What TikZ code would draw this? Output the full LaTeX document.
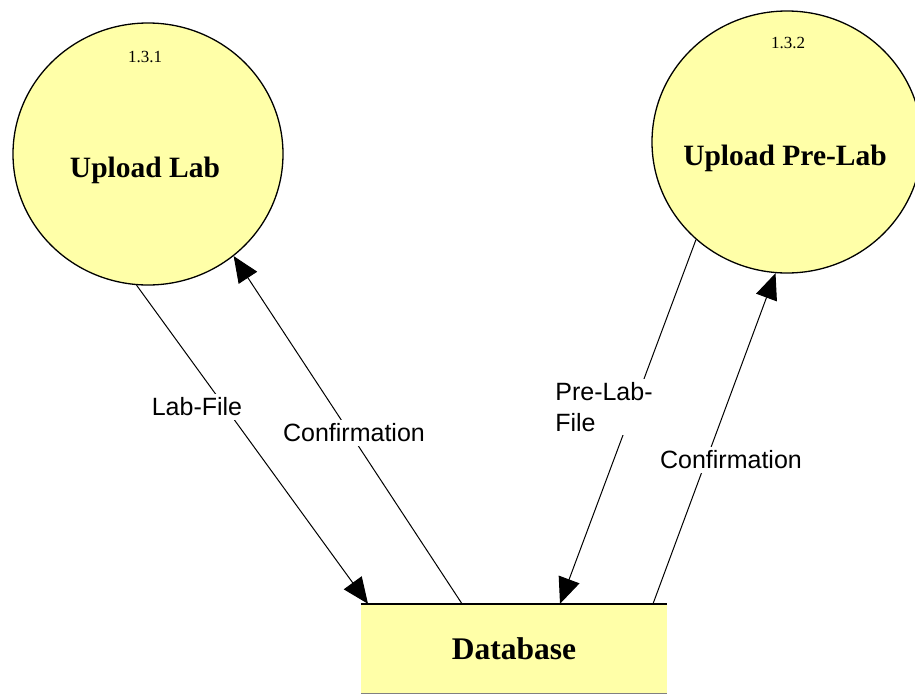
\documentclass[tikz,border=0pt]{standalone}
\usepackage{fontspec}
\setmainfont{Liberation Serif}
\newfontfamily\labfont{Liberation Sans}
\usetikzlibrary{arrows.meta,shapes.geometric}
\definecolor{bubble}{RGB}{255,255,168}
\tikzset{
  proc/.style={ellipse,draw=black,line width=1.3pt,fill=bubble,inner sep=0pt},
  procnum/.style={font=\fontsize{17}{20}\selectfont},
  proctitle/.style={font=\fontsize{29.5}{34}\selectfont\bfseries},
  flow/.style={line width=1pt,-{Triangle[length=26pt,width=22pt]}},
  flowlab/.style={font=\labfont\fontsize{25}{31}\selectfont,fill=white,inner sep=4pt,align=left}
}
\begin{document}
\begin{tikzpicture}[x=1pt,y=-1pt]
\useasboundingbox (0,0) rectangle (915,694);
\clip (0,0) rectangle (915,694);
% processes
\node[proc,minimum width=270pt,minimum height=262pt] (c1) at (148,154) {};
\node[proc,minimum width=270pt,minimum height=262pt] (c2) at (787,142) {};
\node[procnum] (n1) at (145,57) {1.3.1};
\node[proctitle] (t1) at (145,170) {Upload Lab};
\node[procnum] (n2) at (788,43) {1.3.2};
\node[proctitle] (t2) at (785,158) {Upload Pre-Lab};
% data store
\node[fill=bubble,minimum width=306pt,minimum height=89pt,inner sep=0pt,
      font=\fontsize{31.5}{36}\selectfont\bfseries] (db) at (514,648.5) {Database};
\draw[line width=1.5pt] (db.north west) -- (db.north east);
\draw[line width=0.8pt,gray] (db.south west) -- (db.south east);
% connection points on the store
\coordinate (d1) at ([xshift=-146pt]db.north);
\coordinate (d2) at ([xshift=-52pt]db.north);
\coordinate (d3) at ([xshift=46pt]db.north);
\coordinate (d4) at ([xshift=139pt]db.north);
% flows
\draw[flow] (c1.265) -- (d1);
\draw[flow] (d2) -- (c1.-50.5);
\draw[flow] (c2.227.4) -- (d3);
\draw[flow] (d4) -- (c2.265.6);
% labels
\node[flowlab] (l1) at (197,407) {Lab-File};
\node[flowlab] (l2) at (354,433) {Confirmation};
\node[flowlab,inner sep=3pt] (l3) at (604,407) {Pre-Lab-\\File};
\node[flowlab] (l4) at (731,460) {Confirmation};
\end{tikzpicture}
\end{document}
